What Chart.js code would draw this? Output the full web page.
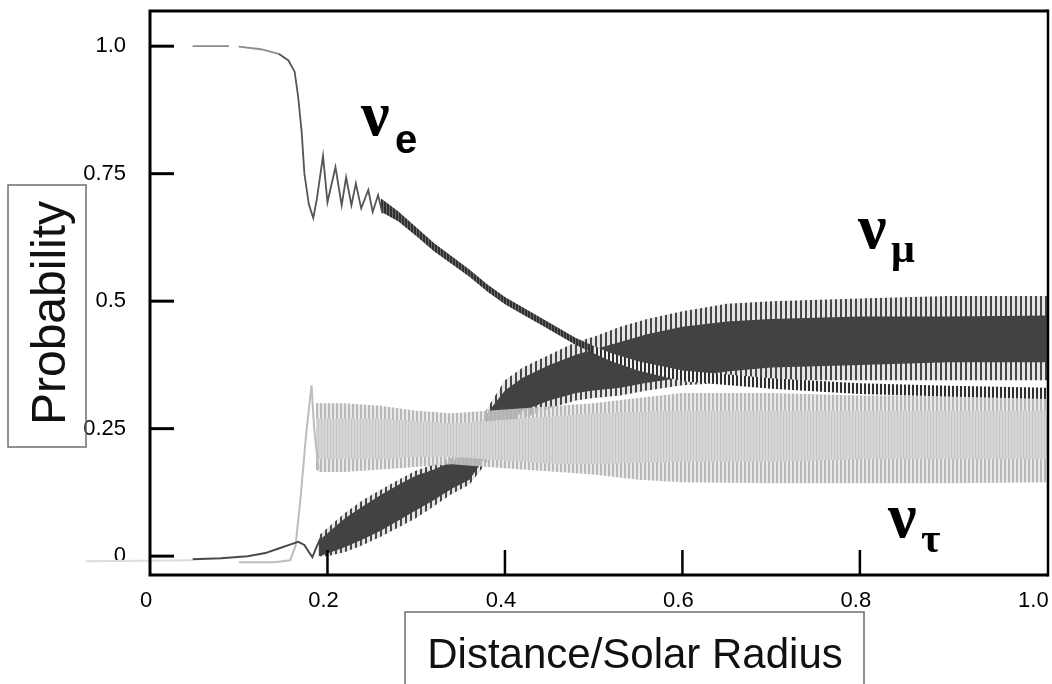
<!DOCTYPE html>
<html>
<head>
<meta charset="utf-8">
<script src="https://cdn.jsdelivr.net/npm/chart.js@4.4.1/dist/chart.umd.min.js"></script>
<style>
  html, body { margin: 0; padding: 0; background: #fff; }
  canvas { display: block; }
</style>
</head>
<body>
<canvas id="chart" width="1052" height="684"></canvas>
<script>
// ------------------------------------------------------------
// Three-flavour neutrino conversion probabilities vs. distance
// ------------------------------------------------------------

// Axis ticks
const xTicks = [0, 0.2, 0.4, 0.6, 0.8, 1.0];
const xTickLabels = ['0', '0.2', '0.4', '0.6', '0.8', '1.0'];
const yTicks = [0, 0.25, 0.5, 0.75, 1.0];
const yTickLabels = ['0', '0.25', '0.5', '0.75', '1.0'];

// nu_e: single curve through the resonance (null = gap in the trace)
const nueLineX = [0.048, 0.089, 0.095, 0.10, 0.125, 0.145, 0.156, 0.163, 0.167, 0.171, 0.174, 0.179,
  0.184, 0.188, 0.195, 0.20, 0.209, 0.216, 0.221, 0.227, 0.232, 0.238, 0.246, 0.251, 0.257, 0.262];
const nueLineY = [1.0, 1.0, null, 0.999, 0.994, 0.985, 0.972, 0.95, 0.90, 0.83, 0.75, 0.69,
  0.663, 0.70, 0.785, 0.694, 0.763, 0.688, 0.743, 0.688, 0.731, 0.682, 0.718, 0.675, 0.708, 0.672];

// nu_e: narrow oscillating band after the resonance
const nueBandX = [0.26, 0.28, 0.30, 0.32, 0.34, 0.36, 0.38, 0.40, 0.42, 0.44, 0.46, 0.48, 0.50, 0.52];
const nueBandLow = [0.676, 0.656, 0.628, 0.598, 0.573, 0.548, 0.519, 0.494, 0.474, 0.454, 0.434, 0.414, 0.398, 0.382];
const nueBandHigh = [0.702, 0.676, 0.645, 0.614, 0.588, 0.562, 0.533, 0.508, 0.488, 0.468, 0.448, 0.428, 0.412, 0.398];
const nueTailX = [0.50, 0.52, 0.55, 0.60, 0.70, 0.80, 0.90, 1.012];
const nueTailLow = [0.398, 0.382, 0.364, 0.343, 0.328, 0.318, 0.313, 0.308];
const nueTailHigh = [0.412, 0.398, 0.382, 0.364, 0.349, 0.339, 0.334, 0.33];

// nu_mu: flat start near zero, then a growing band
const numuLineX = [0.048, 0.08, 0.11, 0.13, 0.145, 0.157, 0.167, 0.174, 0.179, 0.183, 0.187, 0.192];
const numuLineY = [-0.006, -0.004, 0.0, 0.006, 0.015, 0.022, 0.028, 0.022, 0.008, -0.002, 0.015, 0.035];
const numuX = [0.19, 0.20, 0.22, 0.24, 0.26, 0.28, 0.30, 0.32, 0.34, 0.36, 0.38, 0.40,
  0.42, 0.45, 0.48, 0.50, 0.53, 0.56, 0.60, 0.65, 0.70, 0.80, 0.90, 1.012];
const numuSpikeLow = [0.0, 0.0, 0.008, 0.022, 0.038, 0.056, 0.075, 0.098, 0.122, 0.14, 0.185, 0.235,
  0.27, 0.29, 0.305, 0.31, 0.315, 0.325, 0.335, 0.34, 0.345, 0.345, 0.345, 0.345];
const numuLow = [0.0, 0.005, 0.018, 0.033, 0.05, 0.07, 0.09, 0.11, 0.132, 0.15, 0.20, 0.25,
  0.285, 0.305, 0.32, 0.325, 0.33, 0.34, 0.35, 0.362, 0.37, 0.375, 0.38, 0.38];
const numuHigh = [0.03, 0.045, 0.075, 0.098, 0.12, 0.14, 0.158, 0.17, 0.185, 0.205, 0.28, 0.325,
  0.35, 0.375, 0.395, 0.405, 0.42, 0.435, 0.45, 0.46, 0.465, 0.47, 0.47, 0.472];
const numuSpikeHigh = [0.04, 0.055, 0.085, 0.11, 0.13, 0.15, 0.168, 0.18, 0.193, 0.21, 0.29, 0.345,
  0.37, 0.395, 0.42, 0.43, 0.45, 0.465, 0.48, 0.495, 0.50, 0.505, 0.51, 0.51];

// nu_tau: sharp spike at the resonance, then a wide light band
const nutauLineX = [0.10, 0.14, 0.158, 0.164, 0.170, 0.176, 0.182, 0.185, 0.19];
const nutauLineY = [-0.012, -0.012, -0.008, 0.02, 0.12, 0.24, 0.335, 0.25, 0.17];
const nutauX = [0.187, 0.19, 0.22, 0.26, 0.30, 0.34, 0.38, 0.42, 0.46, 0.50, 0.55, 0.60, 0.70, 0.80, 0.90, 1.012];
const nutauSpikeLow = [0.17, 0.165, 0.165, 0.17, 0.175, 0.18, 0.175, 0.17, 0.165, 0.16, 0.15, 0.145, 0.143, 0.143, 0.143, 0.145];
const nutauLow = [0.20, 0.19, 0.19, 0.19, 0.195, 0.195, 0.19, 0.185, 0.18, 0.18, 0.183, 0.185, 0.185, 0.19, 0.19, 0.19];
const nutauHigh = [0.27, 0.27, 0.27, 0.27, 0.265, 0.26, 0.265, 0.27, 0.275, 0.28, 0.283, 0.285, 0.285, 0.285, 0.285, 0.285];
const nutauSpikeHigh = [0.30, 0.30, 0.30, 0.295, 0.285, 0.28, 0.285, 0.29, 0.295, 0.30, 0.31, 0.32, 0.32, 0.315, 0.315, 0.315];

// faint trace left of the frame
const ghostX = [-0.072, 0.048];
const ghostY = [-0.01, -0.008];

const canvas = document.getElementById('chart');
const ctx = canvas.getContext('2d');

// Vertical striped fill used to mimic the dense oscillations
function stripes(on, off, color, gap) {
  const c = document.createElement('canvas');
  c.width = on + off;
  c.height = 1;
  const g = c.getContext('2d');
  if (gap) {
    g.fillStyle = gap;
    g.fillRect(0, 0, c.width, 1);
  }
  g.fillStyle = color;
  g.fillRect(0, 0, on, 1);
  return ctx.createPattern(c, 'repeat');
}

const pts = (xs, ys) => xs.map((x, i) => ({ x: x, y: ys[i] }));

// invisible lower boundary of a band
function edge(xs, ys, order) {
  return {
    data: pts(xs, ys), order: order, fill: false,
    borderColor: 'transparent', borderWidth: 0, pointRadius: 0
  };
}
// upper boundary, filled down to the previous dataset
function band(xs, ys, color, order) {
  return {
    data: pts(xs, ys), order: order, fill: '-1',
    backgroundColor: color, borderColor: 'transparent', borderWidth: 0, pointRadius: 0
  };
}
function trace(xs, ys, color, width, order, extra) {
  return Object.assign({
    data: pts(xs, ys), order: order, fill: false, tension: 0,
    borderColor: color, borderWidth: width, pointRadius: 0
  }, extra || {});
}

const datasets = [
  edge(numuX, numuSpikeLow, 20),
  band(numuX, numuSpikeHigh, stripes(2, 3, '#464646', 'rgba(150,150,150,0.25)'), 19),
  edge(numuX, numuLow, 18),
  band(numuX, numuHigh, '#424242', 17),
  edge(nutauX, nutauSpikeLow, 16),
  band(nutauX, nutauSpikeHigh, stripes(2, 2, '#b9b9b9', 'rgba(225,225,225,0.7)'), 15),
  edge(nutauX, nutauLow, 14),
  band(nutauX, nutauHigh, stripes(1, 2, '#c6c6c6', '#d6d6d6'), 13),
  edge(nueBandX, nueBandLow, 12),
  band(nueBandX, nueBandHigh, stripes(2, 1, '#303030', '#6a6a6a'), 11),
  edge(nueTailX, nueTailLow, 10),
  band(nueTailX, nueTailHigh, stripes(2, 2, '#2e2e2e', '#f2f2f2'), 9),
  trace(ghostX, ghostY, '#dcdcdc', 2, 8, { clip: false }),
  trace(nutauLineX, nutauLineY, '#bdbdbd', 2, 7),
  trace(numuLineX, numuLineY, '#4a4a4a', 2, 6),
  trace(nueLineX, nueLineY, '#555555', 1.8, 5, {
    segment: { borderColor: c => (c.p0.parsed.x < 0.14 ? '#8c8c8c' : undefined) }
  })
];

// Frame, inward ticks, boxed axis titles and flavour labels
const decorations = {
  id: 'decorations',
  afterDraw(chart) {
    const { ctx, chartArea: a, scales: { x, y } } = chart;
    ctx.save();
    ctx.strokeStyle = '#000';
    ctx.lineCap = 'butt';

    // frame
    ctx.lineWidth = 3;
    ctx.beginPath();
    ctx.moveTo(a.right, a.top); ctx.lineTo(a.left, a.top);
    ctx.lineTo(a.left, a.bottom); ctx.lineTo(a.right, a.bottom);
    ctx.stroke();
    ctx.lineWidth = 2.5;
    ctx.beginPath();
    ctx.moveTo(a.right, a.top - 1.5); ctx.lineTo(a.right, a.bottom + 1.5);
    ctx.stroke();

    // inward ticks
    ctx.lineWidth = 3;
    yTicks.forEach(v => {
      const py = y.getPixelForValue(v);
      ctx.beginPath(); ctx.moveTo(a.left, py); ctx.lineTo(a.left + 24, py); ctx.stroke();
    });
    ctx.lineWidth = 2.5;
    xTicks.slice(1, -1).forEach(v => {
      const px = x.getPixelForValue(v);
      ctx.beginPath(); ctx.moveTo(px, a.bottom); ctx.lineTo(px, a.bottom - 25); ctx.stroke();
    });

    // axis title boxes
    ctx.strokeStyle = '#6e6e6e';
    ctx.lineWidth = 1.5;
    ctx.strokeRect(8, 185, 78, 262);
    ctx.strokeRect(405, 612, 459, 80);

    ctx.fillStyle = '#111';
    ctx.font = '48px "Liberation Sans", Arial, sans-serif';
    ctx.textAlign = 'center';
    ctx.textBaseline = 'alphabetic';
    ctx.save();
    ctx.translate(65, 313);
    ctx.rotate(-Math.PI / 2);
    ctx.fillText('Probability', 0, 0);
    ctx.restore();

    ctx.font = '42px "Liberation Sans", Arial, sans-serif';
    ctx.fillText('Distance/Solar Radius', 635, 668);

    // flavour labels
    ctx.fillStyle = '#000';
    ctx.textAlign = 'left';
    ctx.font = 'bold 64px "Liberation Serif", "Times New Roman", serif';
    ctx.fillText('ν', 361, 135);
    ctx.fillText('ν', 858, 248);
    ctx.fillText('ν', 888, 537);
    ctx.font = 'bold 40px "Liberation Sans", Arial, sans-serif';
    ctx.fillText('e', 395, 153);
    ctx.font = 'bold 42px "Liberation Serif", "Times New Roman", serif';
    ctx.fillText('μ', 891, 262);
    ctx.fillText('τ', 921, 552);
    ctx.restore();
  }
};

const tickFont = { family: '"Liberation Sans Narrow", "Arial Narrow", "Liberation Sans", sans-serif', size: 22 };

new Chart(ctx, {
  type: 'line',
  data: { datasets: datasets },
  options: {
    responsive: false,
    animation: false,
    events: [],
    layout: { padding: { top: 11, right: 4, left: 0, bottom: 0 } },
    plugins: {
      legend: { display: false },
      tooltip: { enabled: false }
    },
    scales: {
      x: {
        type: 'linear',
        min: 0,
        max: 1.012,
        afterBuildTicks: axis => { axis.ticks = xTicks.map(v => ({ value: v })); },
        afterFit: axis => { axis.height = 109; axis.paddingLeft = 0; axis.paddingRight = 0; },
        grid: { display: false, drawTicks: false },
        border: { display: false },
        ticks: {
          callback: (v, i) => xTickLabels[i],
          color: '#000',
          font: tickFont,
          padding: 13,
          labelOffset: -4,
          maxRotation: 0,
          autoSkip: false
        }
      },
      y: {
        type: 'linear',
        min: -0.037,
        max: 1.069,
        afterBuildTicks: axis => { axis.ticks = yTicks.map(v => ({ value: v })); },
        afterFit: axis => { axis.width = 150; axis.paddingTop = 0; axis.paddingBottom = 0; },
        grid: { display: false, drawTicks: false },
        border: { display: false },
        ticks: {
          callback: (v, i) => yTickLabels[i],
          color: '#000',
          font: tickFont,
          padding: 24,
          autoSkip: false
        }
      }
    }
  },
  plugins: [decorations]
});
</script>
</body>
</html>
